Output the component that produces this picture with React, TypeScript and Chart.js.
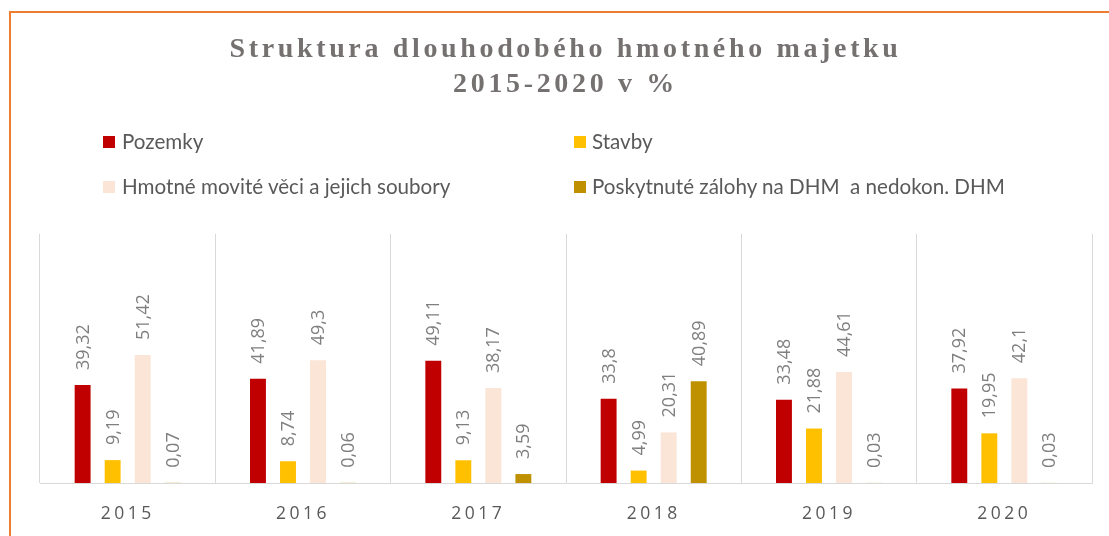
import React, { useEffect, useRef } from "react";
import { Chart, registerables } from "chart.js";

Chart.register(...registerables);

const categories = ["2015", "2016", "2017", "2018", "2019", "2020"];
const seriesNames = [
  "Pozemky",
  "Stavby",
  "Hmotné movité věci a jejich soubory",
  "Poskytnuté zálohy na DHM  a nedokon. DHM",
];
const pozemky = [39.32, 41.89, 49.11, 33.8, 33.48, 37.92];
const stavby = [9.19, 8.74, 9.13, 4.99, 21.88, 19.95];
const hmotne = [51.42, 49.3, 38.17, 20.31, 44.61, 42.1];
const zalohy = [0.07, 0.06, 3.59, 40.89, 0.03, 0.03];
const seriesColors = ["#C00000", "#FFC000", "#FBE5D6", "#BF9000"];
const titleLines = ["Struktura dlouhodobého hmotného majetku", "2015-2020 v %"];

const fmt = (v: number) => String(v).replace(".", ",");

const valueLabelPlugin = {
  id: "valueLabels",
  beforeDraw(chart: any) {
    chart.ctx.letterSpacing = "3.5px";
  },
  afterDatasetsDraw(chart: any) {
    const ctx = chart.ctx;
    ctx.save();
    ctx.letterSpacing = "0px";
    ctx.font = '18px "Open Sans"';
    ctx.fillStyle = "#7F7F7F";
    ctx.textAlign = "left";
    ctx.textBaseline = "middle";
    chart.data.datasets.forEach((ds: any, i: number) => {
      const meta = chart.getDatasetMeta(i);
      meta.data.forEach((bar: any, j: number) => {
        const v = ds.data[j];
        ctx.save();
        ctx.translate(bar.x, bar.y - 15);
        ctx.rotate(-Math.PI / 2);
        ctx.fillText(fmt(v), 0, 1);
        ctx.restore();
      });
    });
    ctx.restore();
  },
  afterDraw(chart: any) {
    chart.ctx.letterSpacing = "0px";
  },
};

export default function App() {
  const ref = useRef<HTMLCanvasElement>(null);
  useEffect(() => {
    if (!ref.current) return;
    const data = [pozemky, stavby, hmotne, zalohy];
    const chart = new Chart(ref.current, {
      type: "bar",
      data: {
        labels: categories,
        datasets: data.map((d, i) => ({
          label: seriesNames[i],
          data: d,
          backgroundColor: seriesColors[i],
          borderWidth: 0,
          categoryPercentage: 0.685,
          barPercentage: 0.53,
        })),
      },
      options: {
        responsive: false,
        animation: false,
        events: [],
        layout: { padding: { left: 40, right: 17, top: 234, bottom: 12 } },
        plugins: {
          legend: { display: false },
          title: { display: false },
          tooltip: { enabled: false },
        },
        scales: {
          x: {
            grid: {
              display: true,
              offset: true,
              color: "#D9D9D9",
              lineWidth: 1,
              drawTicks: false,
            },
            border: { display: true, color: "#D9D9D9", width: 1 },
            ticks: {
              color: "#595959",
              font: { family: "Open Sans", size: 17.5 },
              padding: 21,
            },
          },
          y: {
            display: false,
            min: 0,
            max: 100,
          },
        },
      },
      plugins: [valueLabelPlugin],
    });
    return () => chart.destroy();
  }, []);

  const legendPos = [
    { left: 103, top: 142, text: 122 },
    { left: 574, top: 142, text: 592 },
    { left: 103, top: 187, text: 122 },
    { left: 574, top: 187, text: 592 },
  ];

  return (
    <div
      style={{
        position: "fixed",
        left: 0,
        top: 0,
        width: 1109,
        height: 536,
        background: "#fff",
        overflow: "hidden",
      }}
    >
      <canvas
        ref={ref}
        width={1109}
        height={558}
        style={{ position: "absolute", left: 0, top: 0, width: 1109, height: 558 }}
      />
      <div
        style={{
          position: "absolute",
          left: 9,
          top: 11,
          width: 1200,
          height: 600,
          borderTop: "2px solid #ED7D31",
          borderLeft: "2px solid #ED7D31",
          boxSizing: "border-box",
          pointerEvents: "none",
        }}
      />
      {titleLines.map((t, i) => (
        <div
          key={i}
          style={{
            position: "absolute",
            left: 22,
            right: 0,
            top: i === 0 ? 31 : 66,
            textAlign: "center",
            fontFamily: '"Liberation Serif", serif',
            fontWeight: "bold",
            fontSize: 28,
            lineHeight: "34px",
            letterSpacing: "3.65px",
            color: "#767171",
            whiteSpace: "nowrap",
          }}
        >
          {t}
        </div>
      ))}
      {seriesNames.map((name, i) => (
        <React.Fragment key={name}>
          <div
            style={{
              position: "absolute",
              left: legendPos[i].left,
              top: legendPos[i].top - 6,
              width: 12,
              height: 12,
              background: seriesColors[i],
            }}
          />
          <div
            style={{
              position: "absolute",
              left: legendPos[i].text,
              top: legendPos[i].top - 14,
              fontFamily: "Lato, sans-serif",
              fontSize: 20.6,
              lineHeight: "26px",
              color: "#595959",
              whiteSpace: "pre",
            }}
          >
            {name}
          </div>
        </React.Fragment>
      ))}
    </div>
  );
}
